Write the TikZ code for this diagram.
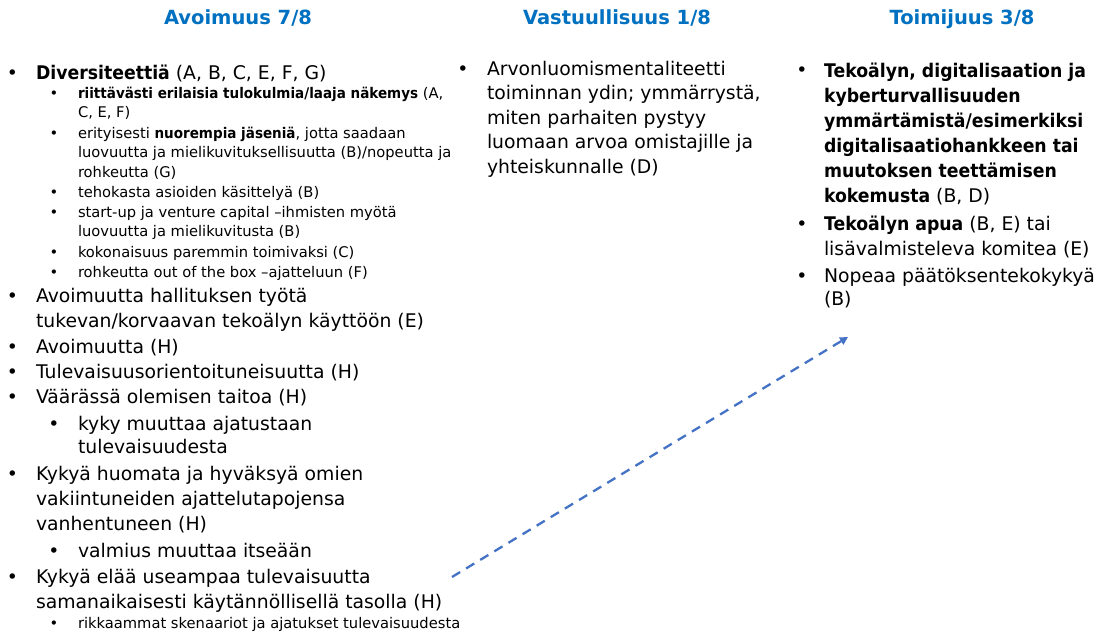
\documentclass[tikz,border=0pt]{standalone}
\usepackage{fontspec}
\setmainfont[BoldFeatures={FakeStretch=0.92}]{DejaVu Sans}
\newfontfamily\headfont{DejaVu Sans}
\usetikzlibrary{arrows.meta}
\definecolor{headblue}{HTML}{0070C0}
\definecolor{arrowblue}{HTML}{4472C4}

\begin{document}
% multi-line nodes sit on the baseline of their last line
\begin{tikzpicture}[x=1pt,y=-1pt,
  every node/.style={inner sep=0pt, outer sep=0pt},
  head/.style={anchor=base, text=headblue, font=\headfont\fontsize{19.5}{24}\selectfont\bfseries},
  maintext/.style={anchor=base west, align=left, font=\fontsize{18.8}{25}\selectfont},
  smalltext/.style={anchor=base west, align=left, font=\fontsize{14.7}{19.8}\selectfont},
  bigdot/.style={anchor=base, font=\fontsize{18.8}{25}\selectfont},
  smalldot/.style={anchor=base, font=\fontsize{14.7}{19.8}\selectfont},
  link/.style={arrowblue, line width=2.3pt, dash pattern=on 9.5pt off 7pt,
    -{Triangle[length=8pt,width=8pt]}}
]
\useasboundingbox (0,0) rectangle (1100,634);
\fill[white] (0,0) rectangle (1100,634);

% column headings
\node[head] (h1) at (238,25) {Avoimuus 7/8};
\node[head] (h2) at (617,25) {Vastuullisuus 1/8};
\node[head] (h3) at (962,25) {Toimijuus 3/8};

% left column
\node[bigdot] (b1) at (12.5,79) {•};
\node[maintext] (t1) at (36,79) {\textbf{Diversiteettiä} (A, B, C, E, F, G)};
\node[smalldot] (b2) at (54,98) {•};
\node[smalltext] (t2) at (78,117.8) {\textbf{riittävästi erilaisia tulokulmia/laaja näkemys} (A,\\C, E, F)};
\node[smalldot] (b3) at (54,138) {•};
\node[smalltext] (t3) at (78,177.6) {erityisesti \textbf{nuorempia jäseniä}, jotta saadaan\\luovuutta ja mielikuvituksellisuutta (B)/nopeutta ja\\rohkeutta (G)};
\node[smalldot] (b4) at (54,197) {•};
\node[smalltext] (t4) at (78,197) {tehokasta asioiden käsittelyä (B)};
\node[smalldot] (b5) at (54,217) {•};
\node[smalltext] (t5) at (78,236.8) {start-up ja venture capital –ihmisten myötä\\luovuutta ja mielikuvitusta (B)};
\node[smalldot] (b6) at (54,257) {•};
\node[smalltext] (t6) at (78,257) {kokonaisuus paremmin toimivaksi (C)};
\node[smalldot] (b7) at (54,277) {•};
\node[smalltext] (t7) at (78,277) {rohkeutta out of the box –ajatteluun (F)};
\node[bigdot] (b8) at (12.5,302) {•};
\node[maintext] (t8) at (36,327) {Avoimuutta hallituksen työtä\\tukevan/korvaavan tekoälyn käyttöön (E)};
\node[bigdot] (b9) at (12.5,353) {•};
\node[maintext] (t9) at (36,353) {Avoimuutta (H)};
\node[bigdot] (b10) at (12.5,378) {•};
\node[maintext] (t10) at (36,378) {Tulevaisuusorientoituneisuutta (H)};
\node[bigdot] (b11) at (12.5,403) {•};
\node[maintext] (t11) at (36,403) {Väärässä olemisen taitoa (H)};
\node[bigdot] (b12) at (54,430) {•};
\node[maintext, font=\fontsize{18.8}{23}\selectfont] (t12) at (78,453) {kyky muuttaa ajatustaan\\tulevaisuudesta};
\node[bigdot] (b13) at (12.5,480) {•};
\node[maintext] (t13) at (36,530) {Kykyä huomata ja hyväksyä omien\\vakiintuneiden ajattelutapojensa\\vanhentuneen (H)};
\node[bigdot] (b14) at (54,557) {•};
\node[maintext] (t14) at (78,557) {valmius muuttaa itseään};
\node[bigdot] (b15) at (12.5,583) {•};
\node[maintext] (t15) at (36,608) {Kykyä elää useampaa tulevaisuutta\\samanaikaisesti käytännöllisellä tasolla (H)};
\node[smalldot] (b16) at (54,628) {•};
\node[smalltext] (t16) at (78,628) {rikkaammat skenaariot ja ajatukset tulevaisuudesta};

% middle column
\node[bigdot] (m1) at (463,75) {•};
\node[maintext, font=\fontsize{18.8}{24.5}\selectfont] (mt1) at (487,173) {Arvonluomismentaliteetti\\toiminnan ydin; ymmärrystä,\\miten parhaiten pystyy\\luomaan arvoa omistajille ja\\yhteiskunnalle (D)};

% right column
\node[bigdot] (r1) at (802,77) {•};
\node[maintext] (rt1) at (824,202) {\bfseries Tekoälyn, digitalisaation ja\\\bfseries kyberturvallisuuden\\\bfseries ymmärtämistä/esimerkiksi\\\bfseries digitalisaatiohankkeen tai\\\bfseries muutoksen teettämisen\\\textbf{kokemusta} (B, D)};
\node[bigdot] (r2) at (802,230) {•};
\node[maintext] (rt2) at (824,255) {\textbf{Tekoälyn apua} (B, E) tai\\lisävalmisteleva komitea (E)};
\node[bigdot] (r3) at (802,282) {•};
\node[maintext, font=\fontsize{18.8}{23}\selectfont] (rt3) at (824,305) {Nopeaa päätöksentekokykyä\\(B)};

% dashed link
\coordinate (linkstart) at (452,577);
\coordinate (linkend) at (848,337);
\draw[link] (linkstart) -- (linkend);
\end{tikzpicture}
\end{document}
